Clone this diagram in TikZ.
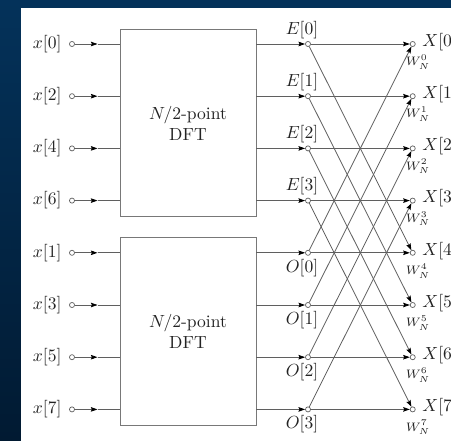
\documentclass[tikz,border=0pt]{standalone}
\usetikzlibrary{arrows.meta}
\definecolor{bgtop}{RGB}{4,50,90}
\definecolor{bgbot}{RGB}{1,26,50}
\definecolor{wirec}{RGB}{95,95,95}
\definecolor{boxc}{RGB}{120,120,120}
\definecolor{txtc}{RGB}{35,35,35}
\tikzset{
  dot/.style={circle,draw=wirec,fill=white,line width=0.4pt,inner sep=0pt,minimum size=2.9pt},
  wire/.style={draw=wirec,line width=0.45pt},
  arr/.style={wire,-{Stealth[length=3.8pt,width=2.6pt,inset=0.6pt,color=black]}},
  dftbox/.style={draw=boxc,line width=0.5pt,fill=white},
  lbl/.style={text=txtc,inner sep=0pt},
  wlbl/.style={text=txtc,inner sep=0pt,font=\scriptsize},
}
\begin{document}
\begin{tikzpicture}[x=0.57pt,y=-0.57pt]
\useasboundingbox (0,0) rectangle (451,441);
\clip (0,0) rectangle (451,441);
\shade[top color=bgtop,bottom color=bgbot] (0,0) rectangle (451,441);
\fill[white] (21,8) rectangle (460,450);

% boxes
\node[dftbox,minimum width=136*0.57pt,minimum height=187.4*0.57pt,align=center,text=txtc] (B1) at (188,123) {$N/2$-point\\DFT};
\node[dftbox,minimum width=136*0.57pt,minimum height=187.7*0.57pt,align=center,text=txtc] (B2) at (188,331.2) {$N/2$-point\\DFT};

% rows
\foreach \r/\i in {0/0,1/2,2/4,3/6,4/1,5/3,6/5,7/7}{
  \pgfmathsetmacro{\yy}{44+52.2*\r}
  \node[lbl] (xl\r) at (47.2,\yy) {$x[\i]$};
  \node[dot] (xi\r) at (72,\yy) {};
  \coordinate (xm\r) at (97.5,\yy);
  \coordinate (xb\r) at (120,\yy);
  \coordinate (xo\r) at (256,\yy);
  \node[dot] (m\r) at (308,\yy) {};
  \node[dot] (X\r) at (412.7,\yy) {};
  \node[lbl,anchor=west] (Xl\r) at (422,\yy-2) {$X[\r]$};
  \node[wlbl] (W\r) at (418,\yy+18) {$W_N^{\r}$};
  \draw[arr] (xi\r) -- (xm\r);
  \draw[wire] (xm\r) -- (xb\r);
  \draw[arr] (xo\r) -- (m\r);
}
\foreach \k in {0,1,2,3}{
  \pgfmathsetmacro{\ya}{44+52.2*\k}
  \pgfmathsetmacro{\yb}{44+52.2*(\k+4)}
  \pgfmathtruncatemacro{\kk}{\k+4}
  \node[lbl] (El\k) at (302,\ya-14) {$E[\k]$};
  \node[lbl] (Ol\k) at (302,\yb+15) {$O[\k]$};
  \draw[arr] (m\k) -- (X\k);
  \draw[arr] (m\k) -- (X\kk);
  \draw[arr] (m\kk) -- (X\kk);
  \draw[arr] (m\kk) -- (X\k);
}
\end{tikzpicture}
\end{document}
